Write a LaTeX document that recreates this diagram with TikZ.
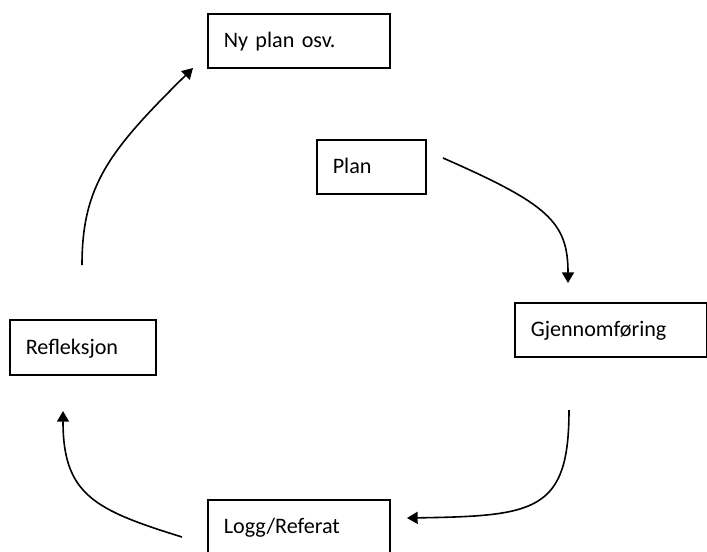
\documentclass[tikz,border=0pt]{standalone}
\usepackage{fontspec}
\setmainfont{Carlito}
\usetikzlibrary{arrows.meta}
\begin{document}
\begin{tikzpicture}[x=0.75pt,y=-0.75pt,
  box/.style={draw, line width=1.2pt, anchor=north west, minimum height=40.5pt,
    inner xsep=12pt, inner ysep=0pt, align=left,
    text height=13.5pt, text depth=3pt,
    font=\fontsize{16.6pt}{19pt}\selectfont},
  flow/.style={line width=1.2pt, -{Triangle[length=8pt,width=9pt]}}]
  \useasboundingbox (0,0) rectangle (707,551);

  % the five stages of the cycle
  \node[box, minimum width=136.5pt, text width=112.5pt] (nyplan) at (207,13) {Ny plan osv.};
  \node[box, minimum width=81.75pt, text width=57.75pt] (plan) at (316,139) {Plan};
  \node[box, minimum width=144pt, text width=120pt] (gjen) at (514,302) {Gjennomføring};
  \node[box, minimum width=109.5pt, minimum height=41.25pt, text width=85.5pt] (refl) at (9,319) {Refleksjon};
  \node[box, minimum width=136.5pt, text width=112.5pt] (logg) at (207,499) {Logg/Referat};

  % loose ends of the curved arrows
  \coordinate (planout) at (443,158);
  \coordinate (gjenin)  at (568,283);
  \coordinate (gjenout) at (569,410);
  \coordinate (loggin)  at (407,518);
  \coordinate (loggout) at (182,537);
  \coordinate (reflin)  at (63,411);
  \coordinate (reflout) at (82,265);
  \coordinate (nyin)    at (193,68);

  \draw[flow] (planout) .. controls (548,204) and (568,222) .. (gjenin);
  \draw[flow] (gjenout) .. controls (569,512) and (535,516) .. (loggin);
  \draw[flow] (loggout) .. controls (95,510) and (63,495) .. (reflin);
  \draw[flow] (reflout) .. controls (82,185) and (110,150) .. (nyin);
\end{tikzpicture}
\end{document}
